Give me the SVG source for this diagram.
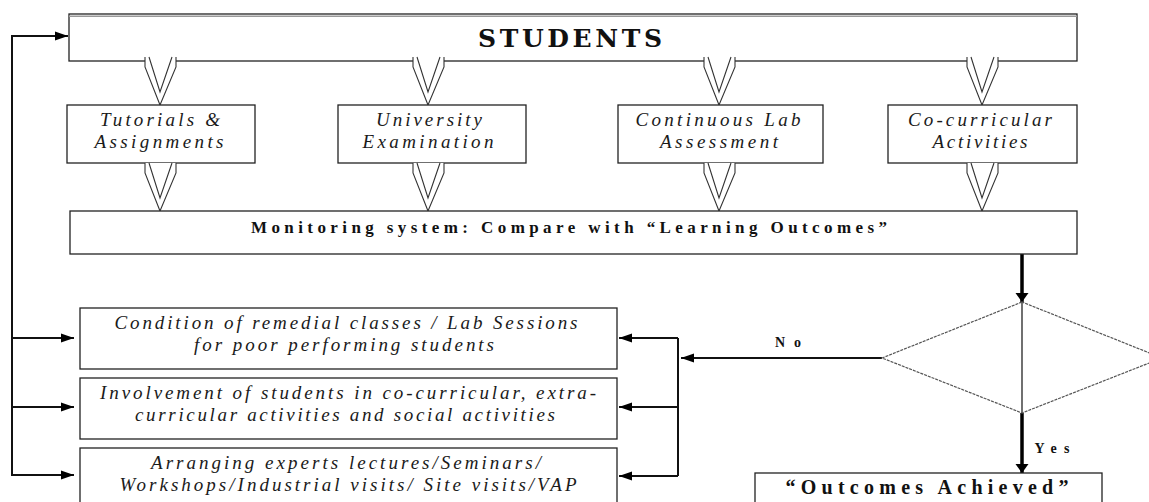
<svg xmlns="http://www.w3.org/2000/svg" width="1149" height="502" viewBox="0 0 1149 502">
<defs>
<style>
.box{fill:#fff;stroke:#222;stroke-width:1.3}
.it{font-family:"Liberation Serif",serif;font-style:italic;font-size:19px;fill:#1a1a1a;text-anchor:middle}
.bd{font-family:"Liberation Serif",serif;font-weight:bold;fill:#111;text-anchor:middle}
.ln{fill:none;stroke:#111;stroke-width:2}
.thick{fill:none;stroke:#000;stroke-width:3.5}
.dia{fill:none;stroke:#555;stroke-width:1.2;stroke-dasharray:3 1}
.chevf{fill:#fff;stroke:none}
.chevs{fill:none;stroke:#333;stroke-width:1.1}
</style>
<marker id="ah" markerUnits="userSpaceOnUse" markerWidth="14" markerHeight="10" refX="13" refY="5" orient="auto"><path d="M0,0.5 L13,5 L0,9.5 z" fill="#000"/></marker>
<marker id="ahb" markerUnits="userSpaceOnUse" markerWidth="12" markerHeight="14" refX="9" refY="7" orient="auto"><path d="M0,0.5 L9,7 L0,13.5 z" fill="#000"/></marker>
<g id="chev">
<polygon class="chevf" points="-15,0 -15,10 0,48 16,10 16,0"/>
<path class="chevs" d="M-15,0 V10 L0,48 L16,10 V0 M12,0 L0,35 L-11,0"/>
</g>
</defs>
<rect width="1149" height="502" fill="#fff"/>

<g id="connectors">
<polyline class="ln" points="12,476 12,36 68,36" marker-end="url(#ah)"/>
<line class="ln" x1="12" y1="338" x2="74" y2="338" marker-end="url(#ah)"/>
<line class="ln" x1="12" y1="407" x2="74" y2="407" marker-end="url(#ah)"/>
<line class="ln" x1="12" y1="475" x2="74" y2="475" marker-end="url(#ah)"/>
<line class="ln" x1="678" y1="338" x2="678" y2="476"/>
<line class="ln" x1="678" y1="338" x2="619" y2="338" marker-end="url(#ah)"/>
<line class="ln" x1="678" y1="407" x2="619" y2="407" marker-end="url(#ah)"/>
<line class="ln" x1="678" y1="476" x2="619" y2="476" marker-end="url(#ah)"/>
<line class="ln" x1="882" y1="358" x2="681" y2="358" marker-end="url(#ah)"/>
<line class="thick" x1="1022" y1="254" x2="1022" y2="302" marker-end="url(#ahb)"/>
<line style="stroke:#111;stroke-width:1.2" x1="1022" y1="302" x2="1022" y2="413"/>
<line class="thick" x1="1022" y1="413" x2="1022" y2="473" marker-end="url(#ahb)"/>
<text class="bd" x="788" y="347" font-size="14" textLength="26" lengthAdjust="spacing">No</text>
<text class="bd" x="1052" y="453" font-size="14" textLength="35" lengthAdjust="spacing">Yes</text>
</g>

<g id="students">
<rect class="box" x="69" y="14" width="1008" height="47"/>
<line x1="69" y1="16.3" x2="1077" y2="16.3" stroke="#999" stroke-width="1.6"/>
<text class="bd" x="570" y="47" font-size="25" textLength="184" lengthAdjust="spacing" style="font-family:'DejaVu Serif',serif;font-weight:900">STUDENTS</text>
</g>

<g id="v-top">
<use href="#chev" x="160" y="57"/>
<use href="#chev" x="428" y="57"/>
<use href="#chev" x="719" y="57"/>
<use href="#chev" x="982" y="57"/>
</g>

<g id="tutorials">
<rect class="box" x="67" y="105" width="188" height="58"/>
<text class="it" x="160" y="126" textLength="120" lengthAdjust="spacing">Tutorials &amp;</text>
<text class="it" x="159" y="148" textLength="129" lengthAdjust="spacing">Assignments</text>
</g>
<g id="university">
<rect class="box" x="338" y="105" width="188" height="58"/>
<text class="it" x="429" y="126" textLength="106" lengthAdjust="spacing">University</text>
<text class="it" x="428" y="148" textLength="131" lengthAdjust="spacing">Examination</text>
</g>
<g id="continuous-lab">
<rect class="box" x="618" y="105" width="205" height="58"/>
<text class="it" x="718" y="126" textLength="165" lengthAdjust="spacing">Continuous Lab</text>
<text class="it" x="719" y="148" textLength="118" lengthAdjust="spacing">Assessment</text>
</g>
<g id="co-curricular">
<rect class="box" x="888" y="105" width="189" height="58"/>
<text class="it" x="980" y="126" textLength="144" lengthAdjust="spacing">Co-curricular</text>
<text class="it" x="980" y="148" textLength="95" lengthAdjust="spacing">Activities</text>
</g>

<g id="v-bottom">
<use href="#chev" x="160" y="163"/>
<use href="#chev" x="428" y="163"/>
<use href="#chev" x="719" y="163"/>
<use href="#chev" x="982" y="163"/>
</g>

<g id="monitoring">
<rect class="box" x="70" y="211" width="1007" height="43"/>
<text class="bd" x="569" y="233" font-size="17" textLength="636" lengthAdjust="spacing">Monitoring system: Compare with “Learning Outcomes”</text>
</g>

<g id="decision">
<polygon class="dia" points="1022,302 882,358 1022,413 1162,358"/>
</g>

<g id="remedial">
<rect class="box" x="80" y="308" width="537" height="61"/>
<text class="it" x="346" y="329" textLength="463" lengthAdjust="spacing">Condition of remedial classes / Lab Sessions</text>
<text class="it" x="344" y="351" textLength="300" lengthAdjust="spacing">for poor performing students</text>
</g>
<g id="involvement">
<rect class="box" x="80" y="378" width="537" height="61"/>
<text class="it" x="348" y="399" textLength="496" lengthAdjust="spacing">Involvement of students in co-curricular, extra-</text>
<text class="it" x="345" y="421" textLength="420" lengthAdjust="spacing">curricular activities and social activities</text>
</g>
<g id="experts">
<rect class="box" x="80" y="448" width="537" height="62"/>
<text class="it" x="346" y="469" textLength="390" lengthAdjust="spacing">Arranging experts lectures/Seminars/</text>
<text class="it" x="348" y="491" textLength="457" lengthAdjust="spacing">Workshops/Industrial visits/ Site visits/VAP</text>
</g>

<g id="outcomes">
<rect class="box" x="755" y="473" width="347" height="40"/>
<text class="bd" x="927" y="494" font-size="20" textLength="283" lengthAdjust="spacing">“Outcomes Achieved”</text>
</g>
</svg>
